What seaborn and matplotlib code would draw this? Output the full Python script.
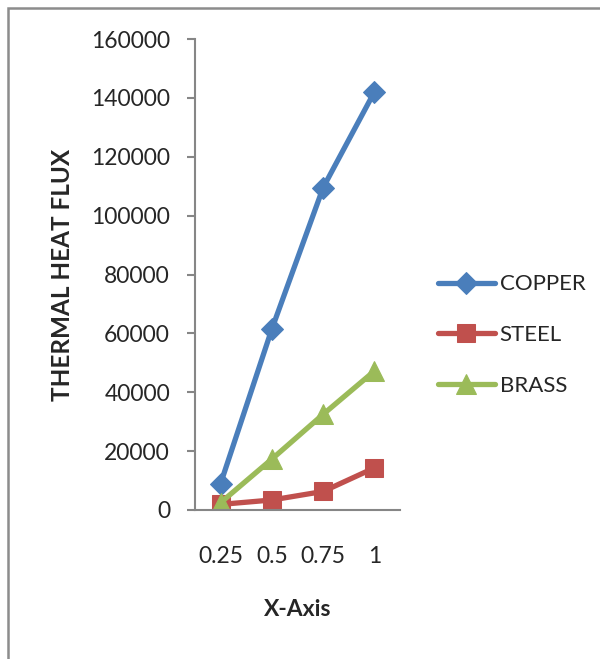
import matplotlib
matplotlib.use("Agg")
import matplotlib.pyplot as plt
import seaborn as sns
import pandas as pd

categories = ["0.25", "0.5", "0.75", "1"]
copper = [9000, 61500, 109500, 142000]
steel = [1900, 3400, 6300, 14300]
brass = [2500, 17300, 32500, 47200]
y_ticks = [0, 20000, 40000, 60000, 80000, 100000, 120000, 140000, 160000]

rows = []
for name, vals in [("COPPER", copper), ("STEEL", steel), ("BRASS", brass)]:
    for c, v in zip(categories, vals):
        rows.append({"x": c, "y": v, "series": name})
df = pd.DataFrame(rows)

sns.set_style("white")
plt.rcParams["font.family"] = ["Lato", "DejaVu Sans"]

fig = plt.figure(figsize=(6, 6.59), dpi=100)
ax = fig.add_axes([195/600, 149/659, 205/600, 471/659])

palette = {"COPPER": "#4A7EBB", "STEEL": "#C0504D", "BRASS": "#9BBB59"}
markers = {"COPPER": "D", "STEEL": "s", "BRASS": "^"}
sizes = {"COPPER": 11, "STEEL": 13, "BRASS": 14}
for name in ["COPPER", "STEEL", "BRASS"]:
    sub = df[df["series"] == name]
    sns.lineplot(data=sub, x="x", y="y", ax=ax, color=palette[name], marker=markers[name],
                 markersize=sizes[name], markeredgecolor=palette[name], linewidth=3.8,
                 label=name, sort=False)

ax.set_xlim(-0.5, 3.5)
ax.set_ylim(0, 160000)
ax.set_yticks(y_ticks)
ax.set_yticklabels([str(t) for t in y_ticks])
for s in ["top", "right"]:
    ax.spines[s].set_visible(False)
for s in ["left", "bottom"]:
    ax.spines[s].set_color("#868686")
    ax.spines[s].set_linewidth(1.5)
ax.tick_params(axis="y", length=6, width=1.5, color="#868686", direction="out", pad=12, labelsize=16.5, left=True)
ax.tick_params(axis="x", length=0, pad=26, labelsize=16.5)
ax.set_xlabel("X-Axis", fontsize=16.5, fontweight="bold")
ax.set_ylabel("THERMAL HEAT FLUX", fontsize=17.5, fontweight="bold")
ax.yaxis.set_label_coords(-0.59, 0.5)
ax.xaxis.set_label_coords(0.5, -0.19)

leg = ax.legend(loc="center left", bbox_to_anchor=(438/600, 1 - 335/659), bbox_transform=fig.transFigure,
                frameon=False, fontsize=16, handlelength=2.55, handletextpad=0.22, labelspacing=1.38,
                borderaxespad=0, borderpad=0)

border = plt.Rectangle((8/600, -0.05), 1.0, 1 - 7.5/659 + 0.05, transform=fig.transFigure,
                       fill=False, edgecolor="#8c8c8c", linewidth=1.8, clip_on=False)
fig.patches.append(border)

fig.savefig("out.png", dpi=100)
